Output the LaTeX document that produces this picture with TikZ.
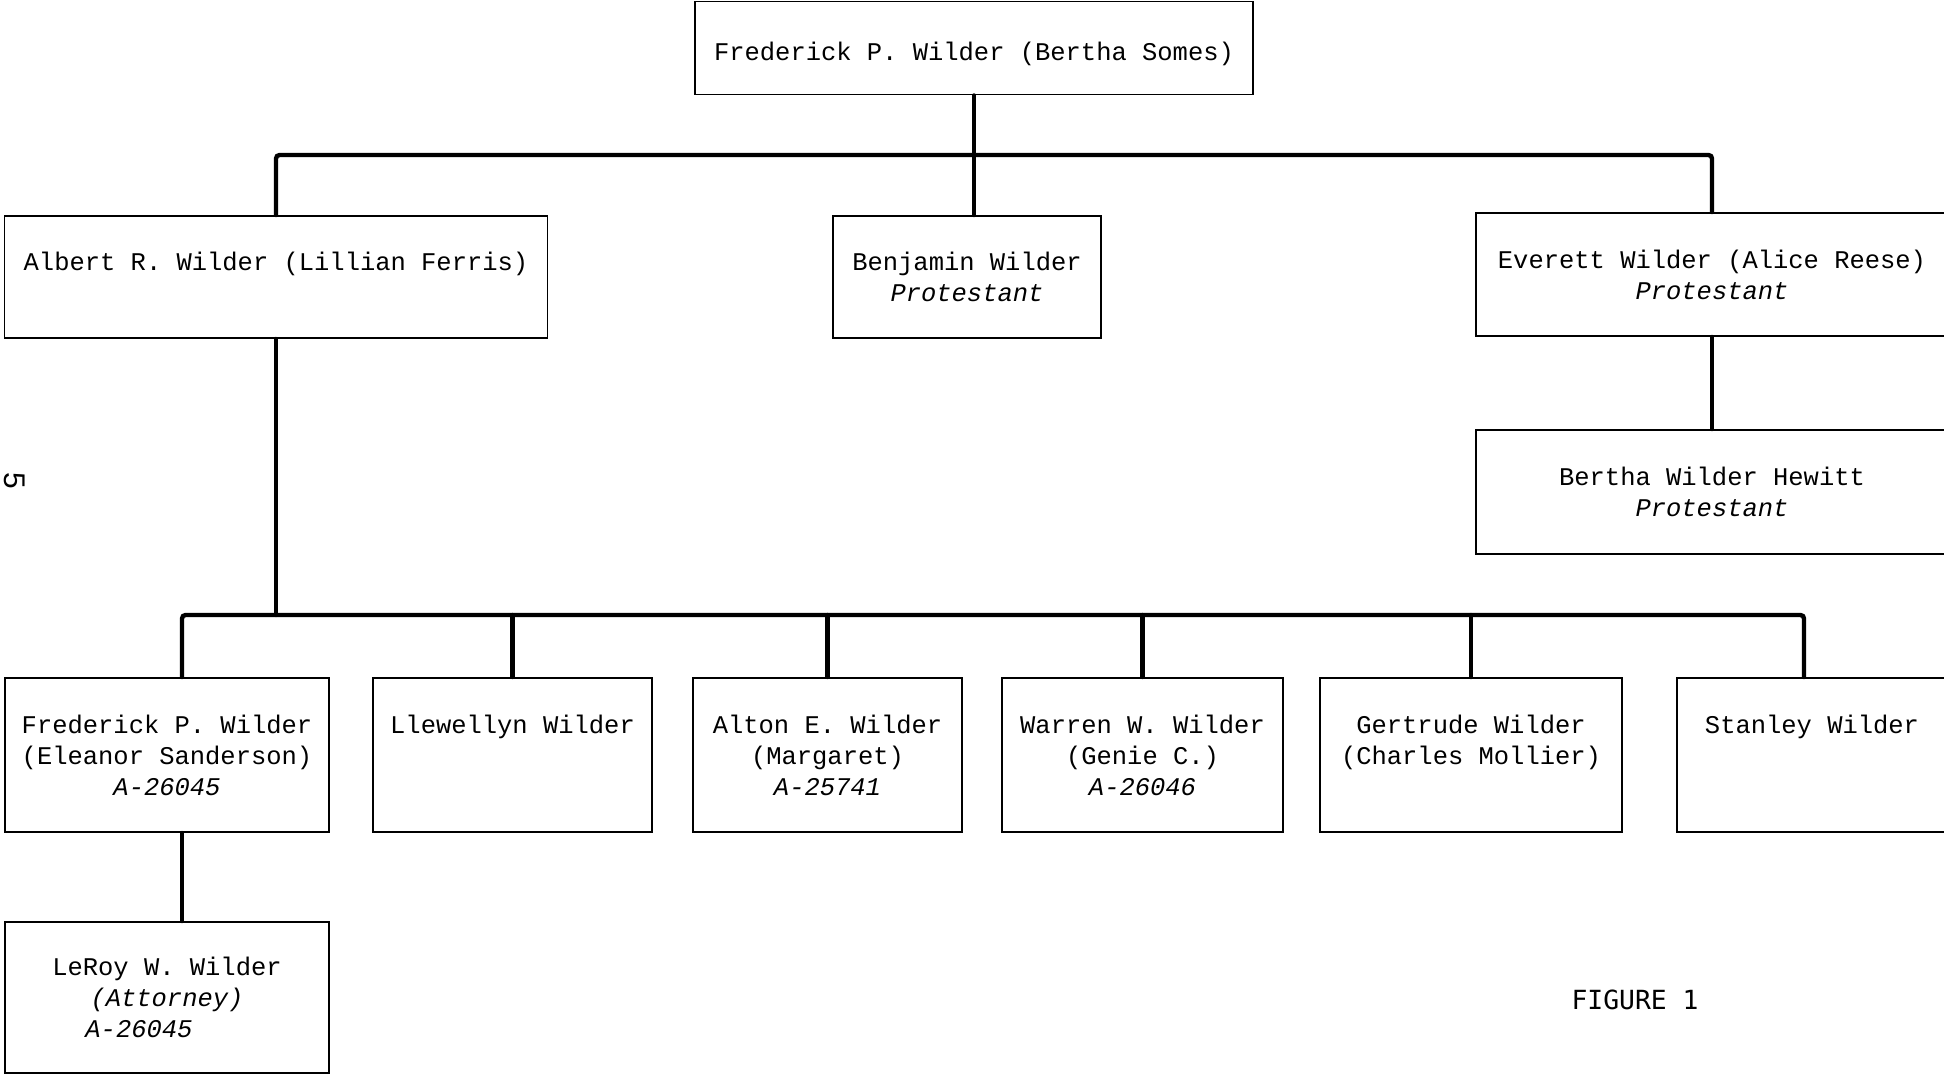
\documentclass[tikz,border=0pt]{standalone}
\usepackage{fontspec}
\setmainfont{Liberation Mono}
\newfontfamily\figfont{DejaVu Sans Mono}
\newfontfamily\pagefont{Liberation Sans}
\usepackage{tikz}
\usetikzlibrary{positioning}
\tikzset{person/.style={draw,line width=1.1pt,align=center,inner sep=0pt,
    font=\fontsize{14.5}{17.6}\selectfont},
  link/.style={line width=2.5pt,rounded corners=2pt}}

\begin{document}
\begin{tikzpicture}[x=0.2mm,y=-0.2mm,line cap=round]

  \useasboundingbox [fill=white] (0,0) rectangle (1944,1075);

  \node [person,minimum width=111.6mm,minimum height=18.6mm] (top) at (974,48)
    {\raisebox{-0.6mm}[\height][0pt]{Frederick P. Wilder (Bertha Somes)}};

  \node [person,minimum width=108.6mm,minimum height=24.4mm] (albert) at (276,277)
    {Albert R. Wilder (Lillian Ferris)\\ \mbox{}};
  \node [person,minimum width=53.6mm,minimum height=24.4mm] (benj) at (967,277)
    {Benjamin Wilder\\ \textit{Protestant}};
  \node [person,minimum width=94.4mm,minimum height=24.6mm] (everett) at (1712,274.5)
    {Everett Wilder (Alice Reese)\\ \textit{Protestant}};
  \node [person,minimum width=94.4mm,minimum height=24.8mm] (bertha) at (1712,492)
    {Bertha Wilder Hewitt\\ \textit{Protestant}};

  \node [person,minimum width=64.8mm,minimum height=30.8mm] (fpw) at (167,755)
    {Frederick P. Wilder\\ (Eleanor Sanderson)\\ \textit{A-26045}};
  \node [person,minimum width=55.8mm,minimum height=30.8mm] (llew) at (512.5,755)
    {Llewellyn Wilder\\ \mbox{}\\ \mbox{}};
  \node [person,minimum width=53.8mm,minimum height=30.8mm] (alton) at (827.5,755)
    {Alton E. Wilder\\ (Margaret)\\ \textit{A-25741}};
  \node [person,minimum width=56.2mm,minimum height=30.8mm] (warren) at (1142.5,755)
    {Warren W. Wilder\\ (Genie C.)\\ \textit{A-26046}};
  \node [person,minimum width=60.4mm,minimum height=30.8mm] (gert) at (1471,755)
    {Gertrude Wilder\\ (Charles Mollier)\\ \mbox{}};
  \node [person,minimum width=54mm,minimum height=30.8mm] (stanley) at (1812,755)
    {Stanley Wilder\\ \mbox{}\\ \mbox{}};

  \node [person,minimum width=64.8mm,minimum height=30.2mm] (leroy) at (167,997.5)
    {LeRoy W. Wilder\\ \textit{(Attorney)}\hspace*{1.2em}\\ \textit{A-26045}\hspace*{2.2em}};

  % family lines
  \coordinate (bar1) at (974,155);
  \coordinate (bar2) at (974,615);
  \draw [link] (top.south) -- (top.south |- benj.north);
  \draw [link] (albert.north) |- (bar1) -| (everett.north);
  \draw [link] (everett.south) -- (bertha.north);
  \draw [link] (albert.south) -- (albert.south |- bar2);
  \draw [link] ([xshift=3mm]fpw.north) |- (bar2) -| ([xshift=-1.6mm]stanley.north);
  \foreach \kid in {llew,alton,warren,gert}
    \draw [link] (\kid.north) -- (\kid.north |- bar2);
  \draw [link] ([xshift=3mm]fpw.south) -- ([xshift=3mm]leroy.north);

  \node [font=\figfont\fontsize{15}{18}\selectfont] (caption) at (1635,1000) {FIGURE 1};
  \node [font=\pagefont\fontsize{17}{20}\selectfont,rotate=-90] (page) at (15,481) {5};

\end{tikzpicture}
\end{document}
